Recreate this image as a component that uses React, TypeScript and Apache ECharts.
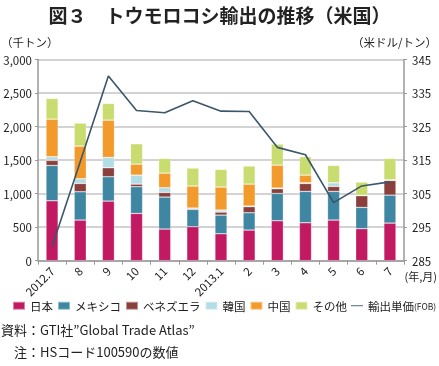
import React, { useEffect, useRef } from "react";
import * as echarts from "echarts";

const categories = ["2012.7", "8", "9", "10", "11", "12", "2013.1", "2", "3", "4", "5", "6", "7"];
const japan = [894, 606, 889, 705, 472, 507, 402, 457, 596, 566, 606, 477, 561];
const mexico = [526, 422, 363, 398, 477, 258, 278, 258, 407, 467, 427, 318, 417];
const venezuela = [75, 124, 134, 39, 69, 15, 45, 90, 70, 119, 75, 174, 219];
const korea = [55, 70, 154, 134, 70, 5, 30, 10, 10, 10, 54, 5, 10];
const china = [561, 487, 556, 164, 218, 328, 343, 327, 342, 114, 0, 0, 0];
const others = [308, 342, 248, 303, 219, 268, 263, 269, 313, 274, 258, 198, 318];
const price = [289.2, 314.5, 340.1, 329.8, 329.1, 332.7, 329.6, 329.5, 318.8, 316.6, 302.3, 307.3, 308.5];

const leftTicks = { min: 0, max: 3000, interval: 500 };
const rightTicks = { min: 285, max: 345, interval: 10 };

const FONT = "'Noto Sans CJK JP', 'Noto Sans', sans-serif";

export default function App() {
  const ref = useRef<HTMLDivElement>(null);
  useEffect(() => {
    if (!ref.current) return;
    const chart = echarts.init(ref.current, undefined, { renderer: "svg" });
    const barSeries = (name: string, data: number[], color: string) => ({
      name,
      type: "bar",
      stack: "total",
      data,
      barWidth: "43%",
      itemStyle: { color, borderColor: "rgba(255,255,255,0.45)", borderWidth: 0.6 },
    });
    chart.setOption({
      animation: false,
      textStyle: { fontFamily: FONT },
      grid: { left: 38, right: 35, top: 59.5, bottom: 105.3 },
      legend: {
        left: 12,
        top: 300,
        padding: 0,
        itemWidth: 12,
        itemHeight: 8,
        itemGap: 4,
        textStyle: { fontSize: 11.5, color: "#222", fontFamily: FONT,
          rich: { s: { fontSize: 8.5, color: "#222", fontFamily: FONT } } },
        data: [
          { name: "日本", icon: "rect" },
          { name: "メキシコ", icon: "rect" },
          { name: "ベネズエラ", icon: "rect" },
          { name: "韓国", icon: "rect" },
          { name: "中国", icon: "rect" },
          { name: "その他", icon: "rect" },
          { name: "輸出単価", icon: "path://M0,4L20,4L20,5.5L0,5.5Z" },
        ],
        formatter: (n: string) => (n === "輸出単価" ? "輸出単価{s|(FOB)}" : n),
      },
      xAxis: {
        type: "category",
        data: categories,
        boundaryGap: true,
        axisLine: { lineStyle: { color: "#999", width: 1.5 } },
        axisTick: { show: true, length: 4, lineStyle: { color: "#999" } },
        axisLabel: { rotate: 45, fontSize: 11.5, color: "#222", margin: 8, fontFamily: FONT },
      },
      yAxis: [
        {
          type: "value",
          ...leftTicks,
          axisLine: { show: true, lineStyle: { color: "#999", width: 1.5 } },
          axisTick: { show: true, length: 3, lineStyle: { color: "#999" } },
          splitLine: { lineStyle: { color: "#c4c4c4", width: 1.5 } },
          axisLabel: {
            fontSize: 11.5, color: "#222", margin: 6, fontFamily: FONT,
            formatter: (v: number) => v.toLocaleString("en-US"),
          },
        },
        {
          type: "value",
          ...rightTicks,
          position: "right",
          axisLine: { show: true, lineStyle: { color: "#999", width: 1.5 } },
          axisTick: { show: true, length: 3, inside: false, lineStyle: { color: "#999" } },
          splitLine: { show: false },
          axisLabel: { fontSize: 11.5, color: "#222", margin: 8, fontFamily: FONT },
        },
      ],
      series: [
        barSeries("日本", japan, "#c11a62"),
        barSeries("メキシコ", mexico, "#3e86a1"),
        barSeries("ベネズエラ", venezuela, "#8a3f3c"),
        barSeries("韓国", korea, "#b3dde6"),
        barSeries("中国", china, "#f29a2c"),
        barSeries("その他", others, "#c8dc6f"),
        {
          name: "輸出単価",
          type: "line",
          yAxisIndex: 1,
          data: price,
          symbol: "none",
          lineStyle: { color: "#3a566b", width: 1.6 },
          itemStyle: { color: "#3a566b" },
          z: 10,
        },
      ],
      graphic: [
        { type: "text", left: "center", top: 5, style: { text: "図３　トウモロコシ輸出の推移（米国）", fontSize: 19, fontWeight: "bold", fill: "#222", fontFamily: FONT } },
        { type: "text", left: 1, top: 36, style: { text: "（千トン）", fontSize: 11.5, fill: "#222", fontFamily: FONT } },
        { type: "text", right: 2, top: 36, style: { text: "（米ドル/トン）", fontSize: 11.5, fill: "#222", fontFamily: FONT } },
        { type: "text", right: 2, top: 270, style: { text: "(年,月)", fontSize: 11, fill: "#222", fontFamily: FONT } },
        { type: "text", left: 1, top: 323, style: { text: "資料：GTI社”Global Trade Atlas”", fontSize: 13, fill: "#222", fontFamily: FONT } },
        { type: "text", left: 14, top: 345, style: { text: "注：HSコード100590の数値", fontSize: 13, fill: "#222", fontFamily: FONT } },
      ],
    });
    return () => chart.dispose();
  }, []);
  return <div ref={ref} style={{ width: 439, height: 366, position: "fixed", left: 0, top: 0 }} />;
}
